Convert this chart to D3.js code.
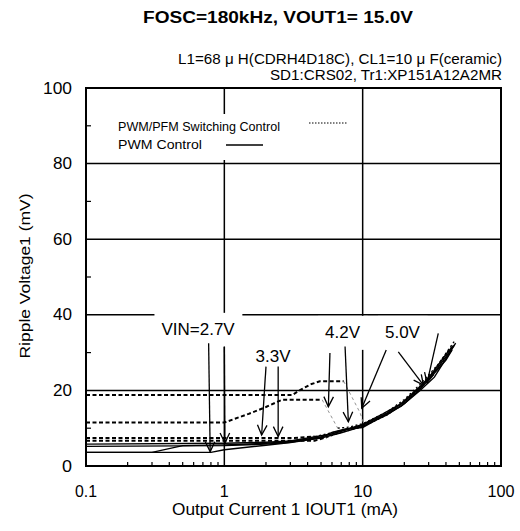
<!DOCTYPE html>
<html><head><meta charset="utf-8">
<script src="https://cdn.jsdelivr.net/npm/d3@7/dist/d3.min.js"></script>
<style>
body{margin:0;background:#fff}
svg{display:block}
text{font-family:"Liberation Sans",Arial,Helvetica,sans-serif;fill:#000}
</style>
</head><body>
<svg id="chart" width="520" height="531"></svg>
<script>
// ---------- data ----------
const titleText = "FOSC=180kHz, VOUT1= 15.0V";
const subtitleLines = ["L1=68 μ H(CDRH4D18C), CL1=10 μ F(ceramic)", "SD1:CRS02, Tr1:XP151A12A2MR"];
const xTickValues = [0.1, 1, 10, 100];
const xTickLabels = ["0.1", "1", "10", "100"];
const yTickValues = [0, 20, 40, 60, 80, 100];
const yTickLabels = ["0", "20", "40", "60", "80", "100"];
const xTitle = "Output Current 1 IOUT1 (mA)";
const yTitle = "Ripple Voltage1 (mV)";
const legendLabels = ["PWM/PFM Switching Control", "PWM  Control"];

// PWM control (solid) — [IOUT1 mA, ripple mV]
const pwm27 = [[0.1,3.6],[0.8,3.6],[1,4.3],[2,5.5],[3,6.2],[5,7.4],[7,8.8],[10,10.5],[15,13.5],[20,16.5],[26,20.3],[32,24],[40,28],[44,30.5]];
const pwm33 = [[0.1,3.6],[0.3,3.6],[0.5,5.4],[1,5.6],[2,6],[3,6.4],[5,7.7],[7,9.2],[10,10.8],[15,14],[20,17],[26,20.8],[32,24.7],[40,29.5],[45,31.8]];
const pwm42 = [[0.1,5.2],[1,5.4],[2,5.8],[3,6.3],[5,7.6],[6,8.9],[7.5,9.8],[10,10.2],[14,13.2],[19,15.8],[26,20],[33,23.5],[47,32.5]];
const pwm50 = [[0.1,5.8],[1,6],[2,6.3],[3,6.6],[5,8],[6,8.5],[7,9.3],[10,11],[14,13.8],[19,16.5],[26,21],[35,26],[46,32]];

// PWM/PFM switching control (dashed): flat PFM part, transition (grey), PWM tail
const pfm27Flat = [[0.1,11.5],[1,11.5],[1.5,13.8],[2,15.6],[2.6,17.5],[5.1,17.5]];
const pfm27Drop = [[5.1,17.5],[6.6,10]];
const pfm27Tail = [[6.6,10],[8,10.3],[10,11.2],[15,14.3],[20,17.6],[26,21.6],[35,26.8],[46,33]];
const pfm33Flat = [[0.1,18.8],[3.1,18.8],[3.5,20],[4.2,21.6],[4.9,22.4],[7.3,22.4]];
const pfm33Drop = [[7.3,22.4],[9.6,14],[10.2,11]];
const pfm33Tail = [[10.2,11],[15,13.9],[20,17.2],[26,21.2],[32,24.8],[42,30.8]];
const pfm42Flat = [[0.1,7.4],[3.2,7.4],[4.5,7.8]];
const pfm42Tail = [[4.5,7.8],[6,8.8],[8,9.9],[10,10.6],[15,13.7],[20,16.8],[27,21.2],[36,26.5],[45,31]];
const pfm50Flat = [[0.1,6.7],[4.5,6.7],[5.5,7.6]];
const pfm50Tail = [[5.5,7.6],[7,8.9],[10,10.4],[15,13.5],[20,16.6],[26,20.6],[34,25.5],[44,31.5]];

// annotations: label text, label anchor [mA, mV], arrows [[tail],[head]]
const annotLabels = ["VIN=2.7V", "3.3V", "4.2V", "5.0V"];
const annotLabelPos = [[0.646,34.7],[2.25,27.5],[7.16,33.9],[19.4,33.9]];
const annotArrows = [
  [[[0.77,32.5],[0.79,3.8]], [[1.0,31.6],[1.01,6.1]]],
  [[[2.0,26.3],[1.86,8.2]], [[2.45,26.3],[2.45,7.8]]],
  [[[5.8,29.9],[5.65,15.7]], [[7.46,31.6],[7.88,11.7]]],
  [[[14.8,30.7],[9.85,15.3]], [[18.1,30.2],[27.5,21.4]], [[35.2,35.1],[29.2,22]]]
];

// ---------- drawing ----------
const svg = d3.select("#chart");
const L = 86, R = 501, T = 88, B = 466;
const x = d3.scaleLog().domain([0.1, 100]).range([L, R]);
const y = d3.scaleLinear().domain([0, 100]).range([B, T]);

function txt(g, s, px, py, size, width, anchor, weight) {
  const t = g.append("text").attr("x", px).attr("y", py)
    .attr("font-size", size).attr("text-anchor", anchor || "start")
    .attr("font-weight", weight || "normal").text(s);
  if (width) t.attr("textLength", width).attr("lengthAdjust", "spacingAndGlyphs");
  return t;
}

// title + subtitle
txt(svg, titleText, 278, 23, 16, 270, "middle", "bold");
txt(svg, subtitleLines[0], 502, 64, 14, 324, "end");
txt(svg, subtitleLines[1], 502, 80, 14, 232, "end");

// gridlines
const grid = svg.append("g").attr("stroke", "#000").attr("stroke-width", 1.5);
yTickValues.filter(v => v > 0 && v < 100).forEach(v => {
  grid.append("line").attr("x1", L).attr("x2", R).attr("y1", y(v)).attr("y2", y(v));
});
xTickValues.filter(v => v > 0.1 && v < 100).forEach(v => {
  grid.append("line").attr("y1", T).attr("y2", B).attr("x1", x(v)).attr("x2", x(v));
});

// minor ticks
const minor = svg.append("g").attr("stroke", "#000").attr("stroke-width", 1.2);
[10,30,50,70,90].forEach(v => {
  minor.append("line").attr("x1", L).attr("x2", L + 5).attr("y1", y(v)).attr("y2", y(v));
});
[0.1,1,10].forEach(d => {
  for (let k = 2; k <= 9; k++) {
    const v = d * k;
    minor.append("line").attr("x1", x(v)).attr("x2", x(v)).attr("y1", B).attr("y2", B - 4);
  }
});

// legend box + legend
svg.append("rect").attr("x", 100).attr("y", 114).attr("width", 255).attr("height", 46).attr("fill", "#fff");
txt(svg, legendLabels[0], 118, 131, 12.5, 162, "start");
txt(svg, legendLabels[1], 118, 149, 12.5, 84, "start");
svg.append("line").attr("x1", 309).attr("x2", 347).attr("y1", 123).attr("y2", 123)
  .attr("stroke", "#000").attr("stroke-width", 1).attr("stroke-dasharray", "1.5,1.5");
svg.append("line").attr("x1", 226).attr("x2", 263).attr("y1", 145).attr("y2", 145)
  .attr("stroke", "#000").attr("stroke-width", 1.5);

// annotation label boxes
const annG = svg.append("g");
annotLabels.forEach((s, i) => {
  const px = x(annotLabelPos[i][0]), py = y(annotLabelPos[i][1]);
  const t = txt(annG, s, px, py, 17, null, "middle");
  const bb = t.node().getBBox();
  annG.insert("rect", "text").attr("x", bb.x - 7).attr("y", py - 22)
    .attr("width", bb.width + 14).attr("height", 34).attr("fill", "#fff");
});

// curves
const line = d3.line().x(d => x(d[0])).y(d => y(d[1]));
const curves = svg.append("g").attr("fill", "none");
[pwm27, pwm33, pwm42, pwm50].forEach(c => {
  curves.append("path").attr("d", line(c)).attr("stroke", "#000").attr("stroke-width", 1.4);
});
[pfm27Flat, pfm33Flat, pfm42Flat, pfm50Flat].forEach(c => {
  curves.append("path").attr("d", line(c)).attr("stroke", "#000").attr("stroke-width", 2)
    .attr("stroke-dasharray", "4,2.5");
});
[pfm27Drop, pfm33Drop].forEach(c => {
  curves.append("path").attr("d", line(c)).attr("stroke", "#888").attr("stroke-width", 0.9)
    .attr("stroke-dasharray", "3,3");
});
[pfm27Tail, pfm33Tail, pfm42Tail, pfm50Tail].forEach(c => {
  curves.append("path").attr("d", line(c)).attr("stroke", "#000").attr("stroke-width", 1.3)
    .attr("stroke-dasharray", "2,2.5");
});

// arrows
const arr = svg.append("g").attr("stroke", "#000").attr("stroke-width", 1.3).attr("fill", "none");
annotArrows.forEach(group => group.forEach(a => {
  const x1 = x(a[0][0]), y1 = y(a[0][1]), x2 = x(a[1][0]), y2 = y(a[1][1]);
  const ang = Math.atan2(y2 - y1, x2 - x1);
  const len = 11, sp = 0.45;
  arr.append("line").attr("x1", x1).attr("y1", y1).attr("x2", x2).attr("y2", y2);
  arr.append("path").attr("d",
    `M${x2 - len * Math.cos(ang - sp)},${y2 - len * Math.sin(ang - sp)}L${x2},${y2}L${x2 - len * Math.cos(ang + sp)},${y2 - len * Math.sin(ang + sp)}`);
}));

// frame
svg.append("rect").attr("x", L).attr("y", T).attr("width", R - L).attr("height", B - T)
  .attr("fill", "none").attr("stroke", "#000").attr("stroke-width", 2);

// tick labels
const yW = {"0": 10, "20": 19, "40": 19, "60": 19, "80": 19, "100": 29};
yTickValues.forEach((v, i) => {
  txt(svg, yTickLabels[i], 72, y(v) + 5.5, 16, yW[yTickLabels[i]], "end");
});
const xW = {"0.1": 22, "1": 9, "10": 19, "100": 27};
xTickValues.forEach((v, i) => {
  txt(svg, xTickLabels[i], x(v), 497, 16, xW[xTickLabels[i]], "middle");
});

// axis titles
txt(svg, xTitle, 285, 515, 16, 226, "middle");
svg.append("text").attr("transform", "translate(30,276) rotate(-90)")
  .attr("text-anchor", "middle").attr("font-size", 15)
  .attr("textLength", 165).attr("lengthAdjust", "spacingAndGlyphs").text(yTitle);
</script>
</body></html>
